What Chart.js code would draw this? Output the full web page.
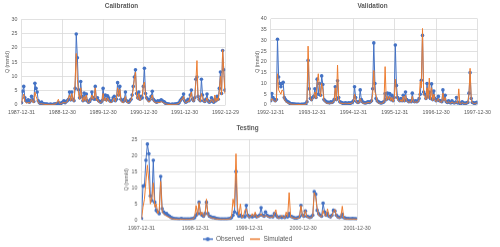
<!DOCTYPE html>
<html>
<head>
<meta charset="utf-8">
<script src="https://cdn.jsdelivr.net/npm/chart.js@4.4.0/dist/chart.umd.min.js"></script>
<style>
  html, body { margin: 0; padding: 0; background: #fff; }
  body { width: 500px; height: 247px; position: relative; overflow: hidden; }
  .box { position: absolute; }
</style>
</head>
<body>
<div class="box" style="left:0px;top:0px;width:243px;height:121px"><canvas id="calChart"></canvas></div>
<div class="box" style="left:250px;top:0px;width:245px;height:121px"><canvas id="valChart"></canvas></div>
<div class="box" style="left:119px;top:122px;width:257px;height:129.5px"><canvas id="testChart"></canvas></div>
<script>
// samples every 10 days
const STEP = 10;

const calTicks = ['1987-12-31', '1988-12-30', '1989-12-30', '1990-12-30', '1991-12-30', '1992-12-29'];
const valTicks = ['1992-12-31', '1993-12-31', '1994-12-31', '1995-12-31', '1996-12-30', '1997-12-30'];
const testTicks = ['1997-12-31', '1998-12-31', '1999-12-31', '2000-12-30', '2001-12-30'];

const calObs = [
    0.8, 4.8, 6.5, 2.5, 1.5, 1.2, 1.8, 1.0, 1.5, 3.0,
    1.8, 1.2, 7.6, 5.8, 4.5, 1.5, 0.8, 0.6, 1.0, 0.5,
    0.4, 0.3, 0.3, 0.3, 0.2, 0.2, 0.3, 0.2, 0.2, 0.3,
    0.3, 0.4, 0.5, 0.8, 0.6, 0.5, 0.8, 1.0, 1.5, 0.8,
    1.2, 1.5, 2.0, 4.5, 1.8, 4.5, 2.0, 1.5, 5.8, 24.8,
    16.5, 5.3, 2.5, 8.2, 3.0, 1.5, 4.2, 1.8, 3.8, 1.5,
    1.0, 1.2, 2.0, 4.5, 2.5, 2.0, 6.5, 2.0, 2.5, 1.5,
    1.2, 1.0, 1.5, 5.8, 2.0, 3.5, 1.8, 3.2, 2.5, 1.5,
    1.2, 1.5, 2.5, 3.0, 1.5, 2.0, 7.8, 3.5, 6.5, 2.0,
    1.5, 1.2, 2.0, 4.5, 1.5, 1.2, 1.0, 1.5, 2.0, 3.5,
    6.5, 9.8, 12.3, 4.0, 2.5, 4.5, 2.0, 3.0, 2.5, 6.5,
    12.8, 4.0, 2.5, 2.0, 1.5, 2.0, 3.0, 4.8, 2.0, 1.5,
    1.2, 1.0, 1.5, 1.2, 1.5, 1.8, 1.5, 1.2, 1.0, 0.6,
    0.4, 0.3, 0.3, 0.2, 0.2, 0.3, 0.2, 0.3, 0.3, 0.4,
    0.5, 0.8, 1.5, 2.0, 2.5, 3.8, 1.5, 1.0, 1.2, 2.0,
    1.5, 3.5, 5.2, 2.0, 1.5, 2.5, 9.0, 9.8, 3.0, 2.0,
    1.5, 9.0, 3.5, 1.5, 1.2, 2.0, 3.8, 1.5, 1.0, 1.2,
    2.5, 1.5, 1.0, 2.0, 1.5, 3.0, 2.0, 5.8, 11.5, 4.0,
    19.0, 12.3, 5.2
];
const calSim = [
    0.5, 2.5, 3.8, 1.2, 0.8, 0.6, 1.0, 0.6, 1.2, 2.0,
    1.0, 0.8, 4.5, 3.0, 2.0, 0.8, 0.5, 0.4, 0.5, 0.3,
    0.3, 0.2, 0.2, 0.2, 0.2, 0.2, 0.2, 0.2, 0.2, 0.3,
    0.3, 0.5, 1.2, 2.0, 0.6, 0.4, 0.6, 0.8, 1.0, 0.6,
    1.0, 1.2, 2.5, 3.5, 1.5, 4.0, 1.5, 1.2, 8.5, 18.0,
    9.0, 4.0, 2.0, 6.0, 2.5, 1.2, 3.0, 1.5, 3.5, 1.0,
    0.8, 1.0, 2.0, 3.5, 2.0, 2.5, 6.0, 1.5, 2.0, 1.0,
    0.8, 0.8, 1.2, 4.0, 1.5, 2.5, 1.2, 2.5, 1.8, 1.0,
    0.8, 1.2, 2.0, 2.5, 1.2, 2.5, 6.0, 3.0, 5.5, 1.5,
    1.0, 0.8, 1.5, 3.0, 1.0, 0.8, 0.8, 1.2, 1.8, 3.0,
    5.5, 9.0, 11.5, 3.0, 2.0, 4.0, 1.5, 2.5, 3.0, 7.0,
    8.0, 3.0, 2.0, 1.5, 1.0, 1.5, 2.5, 3.5, 1.5, 1.0,
    0.8, 0.8, 1.0, 0.8, 1.0, 1.2, 1.0, 0.8, 0.6, 0.4,
    0.3, 0.2, 0.2, 0.2, 0.2, 0.2, 0.2, 0.2, 0.2, 0.3,
    0.4, 0.6, 1.2, 2.0, 2.0, 3.0, 1.2, 0.8, 1.0, 1.5,
    1.2, 3.0, 4.5, 1.5, 1.2, 2.0, 8.0, 15.5, 2.5, 1.5,
    1.2, 4.0, 2.5, 1.2, 1.0, 1.5, 2.5, 1.2, 0.8, 1.0,
    2.0, 1.2, 0.8, 3.5, 1.2, 2.5, 1.5, 5.0, 10.0, 3.5,
    19.3, 12.0, 4.0
];

const valObs = [
    2.0, 5.3, 3.5, 2.5, 2.0, 2.5, 30.5, 13.0, 10.0, 8.5,
    10.0, 10.5, 3.5, 2.5, 1.8, 1.5, 1.2, 0.8, 0.6, 0.5,
    0.4, 0.4, 0.3, 0.3, 0.3, 0.3, 0.2, 0.3, 0.3, 0.3,
    0.4, 0.5, 1.5, 20.7, 7.5, 3.0, 2.5, 3.5, 4.0, 7.5,
    3.5, 12.0, 5.0, 10.0, 4.5, 13.5, 9.5, 2.5, 2.0, 1.5,
    1.2, 1.2, 1.0, 1.5, 1.2, 1.5, 2.5, 8.5, 2.5, 11.2,
    3.5, 1.5, 1.2, 1.0, 0.8, 0.8, 1.0, 0.8, 0.8, 1.0,
    0.8, 1.0, 1.2, 2.0, 8.5, 3.5, 1.5, 1.2, 1.5, 7.0,
    2.5, 1.5, 1.2, 1.0, 1.0, 1.2, 1.5, 1.2, 1.5, 2.0,
    7.5, 28.8, 10.0, 3.0, 2.0, 1.5, 1.2, 1.0, 1.0, 1.2,
    1.5, 5.3, 2.5, 5.5, 3.0, 5.3, 2.5, 4.5, 2.0, 3.5,
    27.8, 9.0, 3.5, 2.5, 2.0, 3.0, 2.0, 4.5, 2.0, 6.0,
    2.5, 2.0, 1.5, 2.0, 1.5, 5.5, 2.0, 1.5, 2.0, 1.5,
    2.0, 3.0, 5.0, 11.5, 32.3, 6.0, 5.0, 3.0, 10.0, 4.0,
    6.0, 3.0, 9.8, 2.5, 6.5, 3.0, 2.0, 2.5, 4.0, 2.0,
    2.0, 1.5, 7.0, 2.5, 4.5, 1.5, 1.2, 2.0, 1.2, 1.0,
    2.0, 1.2, 1.0, 1.2, 3.5, 1.0, 1.2, 0.8, 0.8, 1.5,
    1.0, 0.8, 0.8, 1.0, 1.2, 5.5, 15.0, 3.0, 1.2, 1.0,
    0.8, 1.0, 1.2
];
const valSim = [
    1.5, 3.0, 2.5, 2.0, 1.5, 2.0, 14.5, 7.0, 6.0, 5.0,
    7.0, 6.5, 2.5, 1.8, 1.2, 1.0, 0.8, 0.5, 0.4, 0.3,
    0.3, 0.3, 0.2, 0.2, 0.2, 0.2, 0.2, 0.2, 0.2, 0.2,
    0.3, 0.4, 1.0, 27.3, 11.0, 2.5, 2.0, 3.0, 3.5, 6.0,
    3.0, 10.0, 14.5, 8.0, 4.0, 10.0, 7.0, 2.0, 1.5, 1.0,
    0.8, 0.8, 0.8, 1.0, 0.8, 1.2, 2.0, 8.0, 2.0, 18.5,
    3.0, 1.0, 0.8, 0.8, 0.6, 0.6, 0.8, 0.6, 0.6, 0.8,
    0.6, 0.8, 1.0, 1.5, 5.0, 2.5, 1.2, 0.8, 1.2, 3.0,
    1.5, 1.0, 0.8, 0.8, 0.8, 1.0, 1.2, 1.0, 1.2, 1.5,
    5.0, 16.0, 6.0, 4.5, 1.5, 1.0, 0.8, 0.8, 0.8, 1.0,
    1.2, 17.8, 2.0, 4.0, 2.5, 4.0, 2.0, 3.5, 1.5, 3.0,
    12.0, 5.0, 2.5, 2.0, 1.5, 2.5, 1.5, 4.0, 1.5, 4.5,
    2.0, 1.5, 1.2, 1.5, 1.2, 4.0, 1.5, 1.2, 1.5, 1.2,
    1.5, 2.5, 11.0, 8.0, 35.5, 5.0, 4.0, 2.5, 8.0, 3.0,
    12.5, 2.5, 8.0, 2.0, 5.0, 2.5, 1.5, 2.0, 3.0, 1.5,
    1.5, 1.2, 5.5, 2.0, 3.5, 1.2, 1.0, 1.5, 1.0, 0.8,
    1.5, 1.0, 0.8, 1.0, 1.5, 0.8, 7.5, 0.6, 0.6, 1.2,
    0.8, 0.6, 0.6, 0.8, 1.0, 4.5, 17.0, 2.5, 1.0, 0.8,
    0.6, 0.8, 1.0
];

const testObs = [
    0.5, 10.5, 10.7, 18.5, 23.5, 20.5, 7.5, 6.0, 18.5, 5.5,
    3.0, 2.5, 2.0, 13.5, 3.5, 2.5, 2.0, 2.0, 1.5, 1.2,
    0.8, 0.6, 0.5, 0.4, 0.4, 0.3, 0.3, 0.5, 0.3, 0.3,
    0.3, 0.3, 0.3, 0.3, 0.4, 0.5, 0.8, 1.5, 2.0, 5.5,
    2.0, 1.5, 1.2, 2.0, 5.5, 2.0, 1.2, 1.0, 0.8, 0.8,
    0.6, 0.5, 0.4, 0.3, 0.3, 0.3, 0.3, 0.3, 0.3, 0.4,
    0.5, 0.8, 1.5, 2.5, 15.0, 2.0, 1.2, 1.5, 1.0, 1.2,
    1.0, 4.5, 1.5, 1.0, 1.2, 1.0, 1.2, 1.5, 1.0, 1.2,
    1.5, 3.8, 1.5, 1.2, 2.5, 1.5, 1.2, 1.0, 1.2, 1.0,
    2.0, 1.5, 1.0, 0.8, 1.0, 0.8, 1.0, 0.8, 1.2, 1.0,
    2.0, 1.2, 1.0, 0.8, 0.6, 0.6, 0.8, 1.0, 4.5, 1.5,
    1.2, 2.8, 1.2, 1.0, 0.8, 1.0, 1.5, 8.8, 8.0, 3.0,
    2.0, 1.5, 1.2, 5.2, 2.5, 1.5, 2.0, 1.2, 1.0, 1.5,
    3.0, 2.8, 1.5, 1.0, 0.8, 1.0, 1.8, 0.8, 0.6, 0.5,
    0.5, 0.4, 0.4, 0.5, 0.4, 0.4, 0.3
];
const testSim = [
    0.3, 4.0, 6.5, 12.0, 17.0, 12.0, 5.0, 7.0, 11.5, 4.0,
    5.0, 2.0, 3.0, 12.0, 2.5, 2.0, 1.5, 1.2, 1.0, 0.8,
    0.5, 0.4, 0.3, 0.3, 0.2, 0.2, 0.2, 0.3, 0.2, 0.2,
    0.2, 0.2, 0.2, 0.2, 0.3, 0.4, 1.0, 4.5, 1.5, 5.5,
    1.5, 2.5, 1.0, 1.5, 6.5, 1.5, 1.0, 0.8, 0.6, 0.5,
    0.4, 0.3, 0.3, 0.2, 0.2, 0.2, 0.2, 0.2, 0.2, 0.3,
    0.4, 1.0, 6.5, 4.0, 20.5, 4.0, 1.5, 5.0, 0.8, 1.0,
    3.0, 3.5, 1.2, 0.8, 1.0, 2.0, 1.0, 2.5, 0.8, 1.0,
    1.2, 2.0, 1.2, 1.0, 1.5, 1.2, 1.0, 0.8, 1.0, 0.8,
    2.0, 3.2, 0.8, 0.6, 0.8, 1.5, 0.8, 0.6, 2.5, 1.0,
    8.5, 1.0, 0.8, 0.6, 0.5, 0.5, 0.6, 0.8, 4.5, 1.2,
    1.0, 3.0, 1.0, 0.8, 0.6, 0.8, 1.2, 8.5, 7.0, 3.5,
    1.5, 1.2, 1.0, 3.0, 1.5, 1.2, 3.5, 1.0, 0.8, 1.2,
    2.5, 3.3, 1.2, 0.8, 0.6, 0.8, 4.3, 0.6, 0.4, 0.3,
    0.3, 0.3, 0.3, 0.3, 0.3, 0.3, 0.2
];

const FONT = "'Liberation Sans', Arial, sans-serif";
const GREY = '#595959';
const GRID = '#d9d9d9';
const BLUE = '#4472c4';
const ORANGE = '#ed7d31';

// little line (+ dot) picture for the legend
const legendIcon = (color, dot) => {
    const c = document.createElement('canvas');
    c.width = 10;
    c.height = 6;
    const g = c.getContext('2d');
    g.strokeStyle = color;
    g.lineWidth = 1.5;
    g.beginPath();
    g.moveTo(0, 3);
    g.lineTo(10, 3);
    g.stroke();
    if (dot) {
        g.fillStyle = color;
        g.beginPath();
        g.arc(5, 3, 2, 0, Math.PI * 2);
        g.fill();
    }
    return c;
};

const toPoints = (arr) => arr.map((v, i) => ({ x: i * STEP, y: v }));

const makeChart = (id, cfg) => {
    const ctx = document.getElementById(id).getContext('2d');
    new Chart(ctx, {
        type: 'line',
        data: {
            datasets: [{
                label: 'Observed',
                data: toPoints(cfg.obs),
                borderColor: BLUE,
                backgroundColor: BLUE,
                borderWidth: 1,
                pointRadius: 1.8,
                pointBorderWidth: 0,
                pointBackgroundColor: BLUE,
                order: 1
            }, {
                label: 'Simulated',
                data: toPoints(cfg.sim),
                borderColor: ORANGE,
                backgroundColor: ORANGE,
                borderWidth: 1,
                pointRadius: 0,
                order: 0
            }]
        },
        options: {
            responsive: true,
            maintainAspectRatio: false,
            animation: false,
            layout: { padding: 0 },
            elements: { line: { tension: 0 } },
            plugins: {
                title: {
                    display: true,
                    text: cfg.title,
                    color: GREY,
                    font: { family: FONT, size: 6.4, weight: 'bold' },
                    padding: cfg.titlePad
                },
                legend: {
                    display: cfg.legend,
                    position: 'bottom',
                    labels: {
                        usePointStyle: true,
                        pointStyleWidth: 10,
                        boxHeight: 6,
                        padding: 6,
                        color: GREY,
                        font: { family: FONT, size: 6.5 },
                        generateLabels: (chart) => chart.data.datasets.map((ds, i) => ({
                            text: ds.label,
                            pointStyle: legendIcon(ds.borderColor, i === 0),
                            fillStyle: 'transparent',
                            strokeStyle: 'transparent',
                            lineWidth: 0,
                            fontColor: GREY,
                            hidden: false,
                            datasetIndex: i
                        }))
                    }
                },
                tooltip: { enabled: false }
            },
            scales: {
                x: {
                    type: 'linear',
                    min: 0,
                    max: (cfg.ticks.length - 1) * 365,
                    grid: { color: GRID, lineWidth: 0.8, drawTicks: false },
                    border: { display: false },
                    ticks: {
                        stepSize: 365,
                        autoSkip: false,
                        maxRotation: 0,
                        padding: cfg.xPad,
                        color: GREY,
                        font: { family: FONT, size: 5.3 },
                        callback: (v) => cfg.ticks[Math.round(v / 365)]
                    },
                    afterFit: (s) => { s.height = cfg.xHeight; }
                },
                y: {
                    min: 0,
                    max: cfg.yMax,
                    grid: { color: GRID, lineWidth: 0.8, drawTicks: false },
                    border: { display: false },
                    ticks: {
                        stepSize: 5,
                        padding: 4,
                        color: GREY,
                        font: { family: FONT, size: 5.3 }
                    },
                    title: {
                        display: true,
                        text: 'Q (mm/d)',
                        color: GREY,
                        font: { family: FONT, size: 5.2 },
                        padding: { top: 4, bottom: 0 }
                    },
                    afterFit: (s) => { s.width = cfg.yWidth; }
                }
            }
        }
    });
};

makeChart('calChart', {
    title: 'Calibration', obs: calObs, sim: calSim, ticks: calTicks, yMax: 30,
    titlePad: { top: 2.8, bottom: 8.6 }, yWidth: 21.5, xHeight: 16, xPad: 4, legend: false
});
makeChart('valChart', {
    title: 'Validation', obs: valObs, sim: valSim, ticks: valTicks, yMax: 40,
    titlePad: { top: 2.8, bottom: 8.3 }, yWidth: 20.7, xHeight: 16, xPad: 4, legend: false
});
makeChart('testChart', {
    title: 'Testing', obs: testObs, sim: testSim, ticks: testTicks, yMax: 25,
    titlePad: { top: 2.4, bottom: 7.0 }, yWidth: 22.5, xHeight: 9.7, xPad: 5.4, legend: true
});
</script>
</body>
</html>
